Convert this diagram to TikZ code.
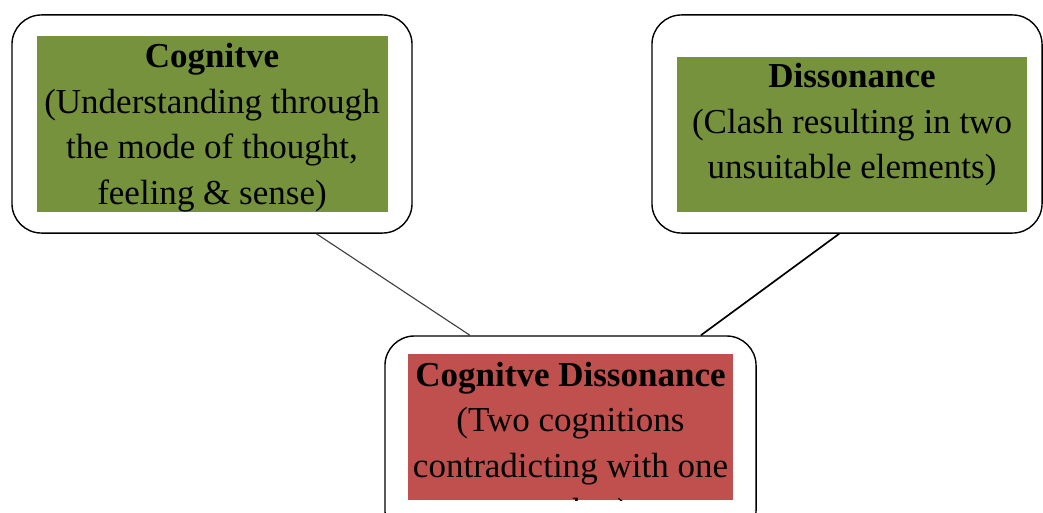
\documentclass[tikz,border=0pt]{standalone}
\usepackage{fontspec}
\setmainfont{Liberation Serif}
\usetikzlibrary{calc}

\definecolor{olivegreen}{HTML}{76923C}
\definecolor{brickred}{HTML}{C0504D}

\begin{document}
\begin{tikzpicture}[x=0.025cm,y=-0.025cm, %pixel units
  bubble/.style={draw,line width=1pt,rounded corners=21pt,fill=white},
  panel/.style={inner sep=0pt},
  caption/.style={align=center,inner sep=0pt,font=\fontsize{24.9}{32.4}\selectfont}]
\useasboundingbox (0,0) rectangle (1043,512);
\clip (0,0) rectangle (1043,512);

% outer rounded boxes
\node[bubble,minimum width=284.5pt,minimum height=155.1pt] (cogbubble) at (212,124) {};
\node[bubble,minimum width=277.4pt,minimum height=155.1pt] (disbubble) at (847,124) {};
\node[bubble,minimum width=263.9pt,minimum height=145.1pt] (cdbubble) at (570.5,438) {};

% coloured panels
\node[panel,fill=olivegreen,minimum width=249.7pt,minimum height=125.2pt] (cogpanel) at (212.5,124) {};
\node[panel,fill=olivegreen,minimum width=249pt,minimum height=110.3pt] (dispanel) at (852,134.5) {};
\node[panel,fill=brickred,minimum width=231.2pt,minimum height=103.9pt] (cdpanel) at (570.5,427) {};

% texts
\node[caption] (cogtext) at (212,127.5) {\textbf{Cognitve}\\(Understanding through\\the mode of thought,\\feeling \& sense)};
\node[caption] (distext) at (852,125) {\textbf{Dissonance}\\(Clash resulting in two\\unsuitable elements)};
\begin{scope}
\clip (cdpanel.north west) rectangle (cdpanel.south east);
\node[caption] (cdtext) at (570.5,446) {\textbf{Cognitve Dissonance}\\(Two cognitions\\contradicting with one\\another)};
\end{scope}

% connectors
\draw[line width=0.8pt,black!75] ($(cogbubble.south west)!0.76!(cogbubble.south east)$) -- ($(cdbubble.north west)!0.23!(cdbubble.north east)$);
\draw[line width=1.2pt] ($(disbubble.south west)!0.48!(disbubble.south east)$) -- ($(cdbubble.north west)!0.85!(cdbubble.north east)$);

\end{tikzpicture}
\end{document}
